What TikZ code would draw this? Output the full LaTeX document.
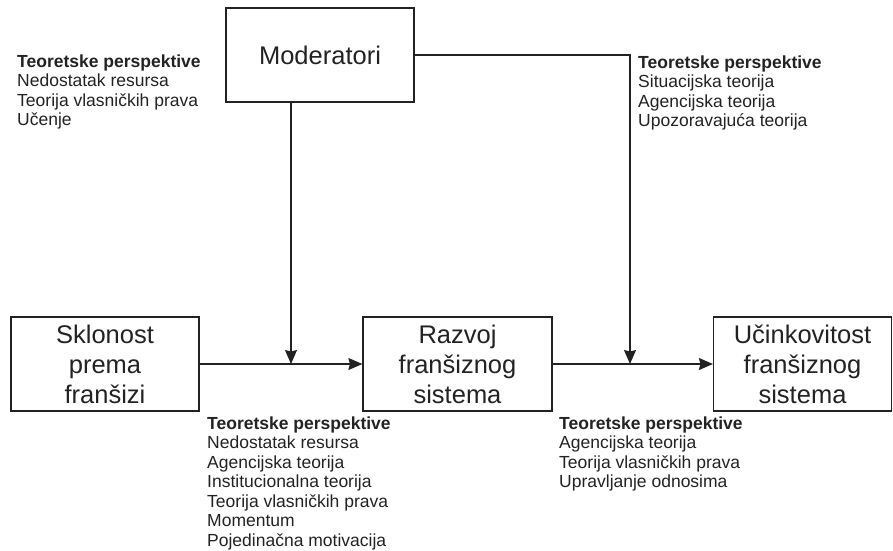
\documentclass[tikz,border=0pt]{standalone}
\usepackage{fontspec}
\setmainfont{Liberation Sans}
\usetikzlibrary{arrows.meta}
\definecolor{ink}{HTML}{222222}
\begin{document}
\begin{tikzpicture}[x=1pt,y=-1pt,
  box/.style={draw=ink, text=ink, line width=1.2pt, minimum width=#1, minimum height=94pt,
    inner sep=0pt, align=center, font=\fontsize{25.5}{30}\selectfont},
  txt/.style={anchor=north west, inner sep=0pt, align=left, text=ink,
    font=\fontsize{17.5}{19.5}\selectfont},
  arr/.style={draw=ink, line width=1.2pt, -{Stealth[length=14pt,width=12pt,inset=1.5pt]}}]
\useasboundingbox (0,0) rectangle (893,550);

\node[box=188pt] (mod) at (320,55) {Moderatori};
\node[box=188pt] (skl) at (105,364) {Sklonost\\prema\\franšizi};
\node[box=189pt] (raz) at (457.5,364) {Razvoj\\franšiznog\\sistema};
\node[box=178pt] (uci) at (802.5,364) {Učinkovitost\\franšiznog\\sistema};

\coordinate (j1) at (291,364);
\coordinate (j2) at (630,364);

\draw[arr] (mod.south -| j1) -- (j1);
\draw[arr] (mod.east) -| (j2);
\draw[arr] (skl.east) -- (raz.west);
\draw[arr] (raz.east) -- (uci.west);

\node[txt] (t1) at (17,53.35) {\strut\textbf{Teoretske perspektive}\\Nedostatak resursa\\Teorija vlasničkih prava\\Učenje};
\node[txt] (t2) at (638,54.35) {\strut\textbf{Teoretske perspektive}\\Situacijska teorija\\Agencijska teorija\\Upozoravajuća teorija};
\node[txt] (t3) at (207,415.35) {\strut\textbf{Teoretske perspektive}\\Nedostatak resursa\\Agencijska teorija\\Institucionalna teorija\\Teorija vlasničkih prava\\Momentum\\Pojedinačna motivacija};
\node[txt] (t4) at (559,415.35) {\strut\textbf{Teoretske perspektive}\\Agencijska teorija\\Teorija vlasničkih prava\\Upravljanje odnosima};
\end{tikzpicture}
\end{document}
